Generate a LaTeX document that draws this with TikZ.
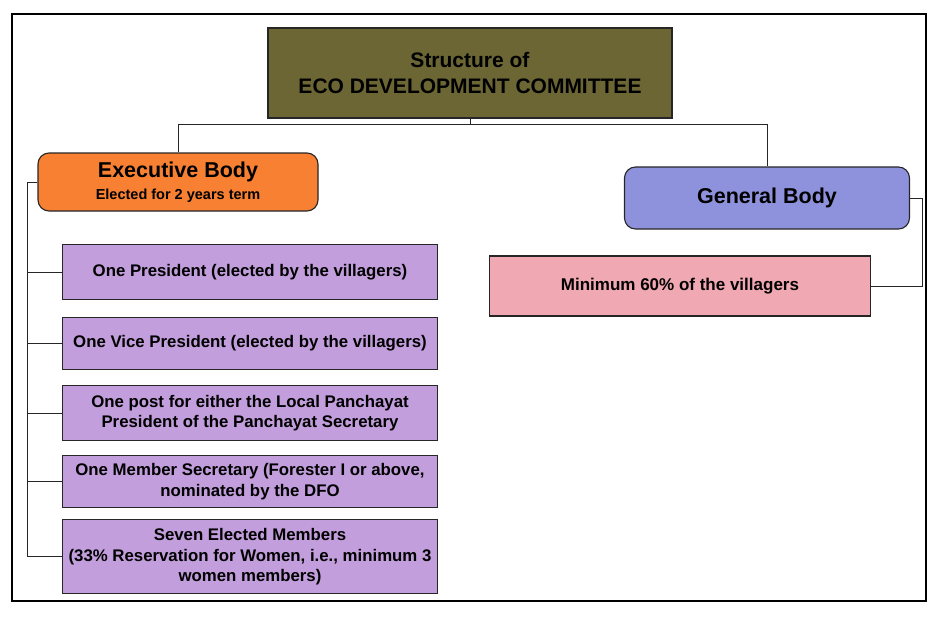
\documentclass[tikz,border=0pt]{standalone}
\usepackage{fontspec}
\setmainfont{Liberation Sans}
\usepackage{xcolor}
\usetikzlibrary{positioning}

\definecolor{olivebox}{RGB}{108,102,52}
\definecolor{orangebox}{RGB}{247,128,50}
\definecolor{bluebox}{RGB}{142,146,220}
\definecolor{pinkbox}{RGB}{240,168,178}
\definecolor{purplebox}{RGB}{194,158,220}

\begin{document}
\begin{tikzpicture}[
    x=1pt, y=-1pt,
    node distance=15pt,
    box/.style={draw=black!85, line width=1.1pt, align=center, font=\bfseries, inner sep=2pt},
    headbox/.style={box, fill=olivebox, minimum width=404pt, minimum height=90pt, font=\bfseries\fontsize{21}{26}\selectfont},
    bodybox/.style={box, rounded corners=11pt, minimum height=58pt},
    postbox/.style={box, fill=purplebox, minimum width=375pt, minimum height=52pt, font=\bfseries\fontsize{16.8}{20.5}\selectfont},
    memberbox/.style={box, fill=pinkbox, minimum width=381pt, minimum height=60pt, font=\bfseries\fontsize{17}{20}\selectfont},
    link/.style={draw=black!85, line width=0.9pt}
  ]
    \useasboundingbox (0,0) rectangle (930,618);
    % outer frame
    \draw[line width=2.2pt] (12,14) rectangle (926,601);

    \node[headbox] (title) at (470,73) {Structure of\\ECO DEVELOPMENT COMMITTEE};
    \node[bodybox, fill=orangebox, minimum width=280pt] (exec) at (178,182)
      {{\fontsize{21.5}{24}\selectfont Executive Body}\\[6pt]{\fontsize{14.5}{16}\selectfont Elected for 2 years term}};
    \node[bodybox, fill=bluebox, minimum width=285pt, minimum height=62pt, font=\bfseries\fontsize{21.5}{25}\selectfont] (general) at (767,198) {General Body};
    \node[memberbox] (members) at (680,286) {Minimum 60\% of the villagers};

    % executive posts
    \node[postbox, minimum height=55pt] (president) at (250,272) {One President (elected by the villagers)};
    \node[postbox, below=17pt of president] (vice) {One Vice President (elected by the villagers)};
    \node[postbox, minimum height=55pt, below=of vice] (panchayat) {One post for either the Local Panchayat\\President of the Panchayat Secretary};
    \node[postbox, below=14pt of panchayat] (secretary) {One Member Secretary (Forester I or above,\\nominated by the DFO};
    \node[postbox, minimum height=74pt, below=11pt of secretary] (elected) {Seven Elected Members\\(33\% Reservation for Women, i.e., minimum 3\\women members)};

    % connectors
    \coordinate (split) at (470,124);
    \draw[link] (title.south) -- (split);
    \draw[link] (split) -| (exec.north);
    \draw[link] (split) -| (general.north);
    \coordinate (trunk) at (27,182);
    \draw[link] (exec.west) -- (trunk) |- (elected.west);
    \foreach \post in {president, vice, panchayat, secretary}
      \draw[link] (\post.west -| trunk) -- (\post.west);
    \coordinate (gbend) at (922,198);
    \draw[link] (general.east) -- (gbend) |- (members.east);
  \end{tikzpicture}
\end{document}
